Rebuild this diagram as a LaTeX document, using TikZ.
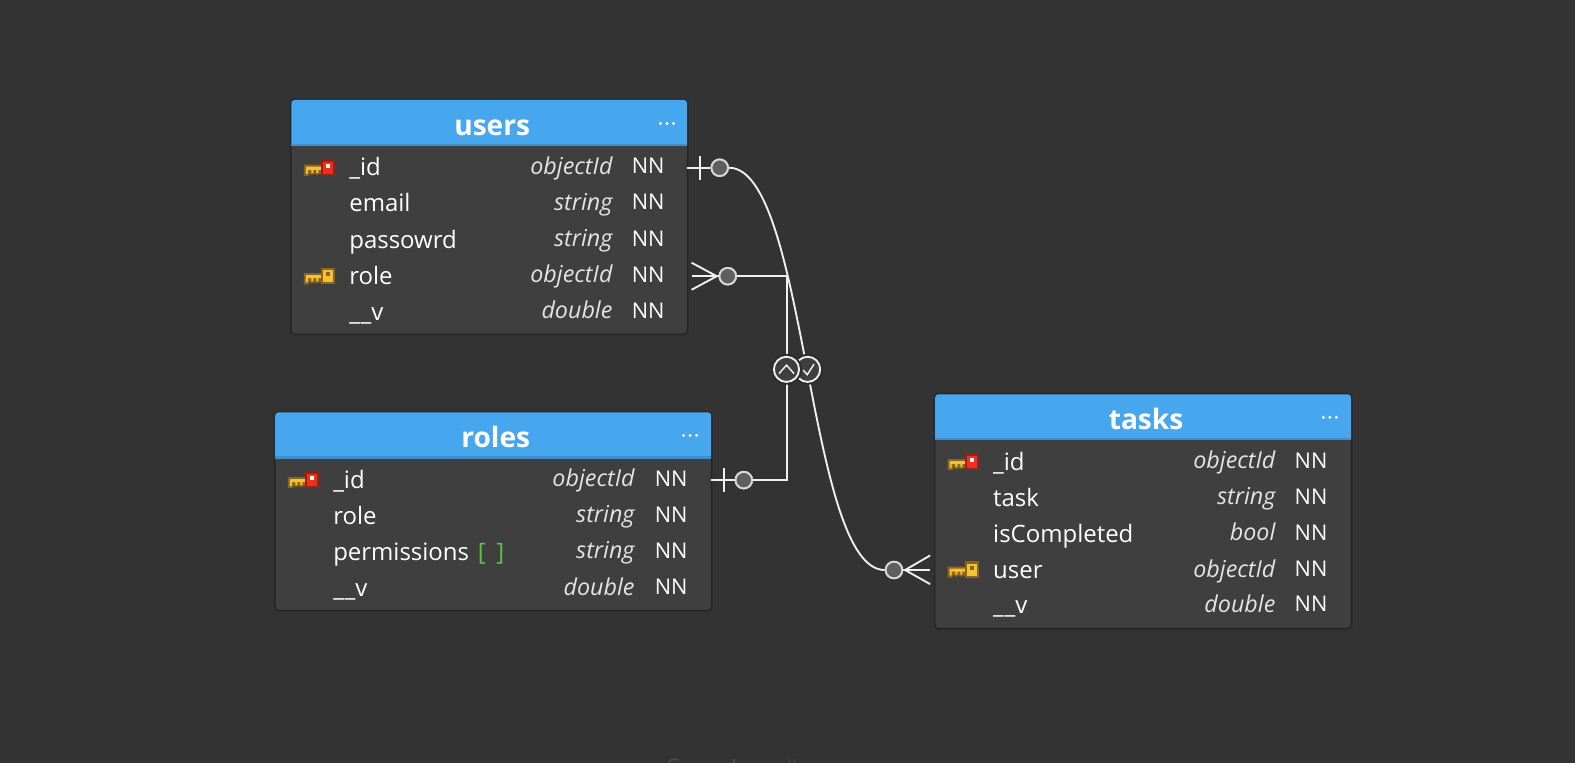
\documentclass[tikz,border=0pt]{standalone}
\usepackage{fontspec}
\setmainfont{Open Sans}
\definecolor{bgc}{HTML}{333333}
\definecolor{panelc}{HTML}{3F3F3F}
\definecolor{headc}{HTML}{46A7EE}
\definecolor{headline}{HTML}{3F8FCB}
\definecolor{edgec}{HTML}{262626}
\definecolor{linkc}{HTML}{F0F0F0}
\definecolor{dotc}{HTML}{5F5F5F}
\definecolor{dotr}{HTML}{D8D8D8}
\definecolor{typec}{HTML}{E4E4E4}
\definecolor{greenc}{HTML}{5FBF45}
\definecolor{keyy}{HTML}{F6C232}
\definecolor{keyb}{HTML}{8A6420}
\definecolor{keyr}{HTML}{F0301F}
\definecolor{keyd}{HTML}{9A1F14}
\definecolor{faintc}{HTML}{4A4A4A}
\tikzset{
  x=0.75pt,y=-0.75pt,
  tablebox/.style={draw=edgec,line width=1.2pt,fill=panelc,rounded corners=3pt,outer sep=0},
  fieldname/.style={anchor=base west,inner sep=0,text=white,font=\fontsize{17.9}{20}\selectfont},
  fieldtype/.style={anchor=base east,inner sep=0,text=typec,font=\fontsize{17.4}{20}\selectfont\itshape},
  fieldnn/.style={anchor=base west,inner sep=0,text=white,font=\fontsize{16.2}{20}\selectfont},
  tabletitle/.style={anchor=base,inner sep=0,text=white,font=\fontsize{21}{24}\selectfont\bfseries},
  linkline/.style={draw=linkc,line width=1.4pt},
  optdot/.style={circle,draw=dotr,fill=dotc,line width=1.4pt,minimum size=12.4pt,inner sep=0},
  btn/.style={circle,draw=linkc,fill=panelc,line width=1.4pt,minimum size=18.8pt,inner sep=0},
  halo/.style={circle,fill=bgc!85!black,minimum size=23pt,inner sep=0},
}
% #1 x, #2 y of bow centre, #3 bow fill, #4 bow border, #5 pip colour
\newcommand{\keyglyph}[5]{%
  \begin{scope}[shift={(#1,#2)}]
    \fill[keyb] (0,-3) rectangle (18,6) (0,6) rectangle (5,8) (7,6) rectangle (9.5,7) (12,6) rectangle (14.5,7);
    \fill[keyy] (2,-1) rectangle (18,2) (2,2) rectangle (4,6) (7.5,2) rectangle (9.5,5) (12.5,2) rectangle (14.5,5);
    \fill[#4] (17,-8) rectangle (31,8);
    \fill[#3] (19,-6) rectangle (29,6);
    \fill[#5] (22.5,-4) rectangle (26.5,0);
  \end{scope}}
\newcommand{\dotsmark}[2]{%
  \fill[white] (#1,#2) circle (1.6) ++(6.5,0) circle (1.6) ++(6.5,0) circle (1.6);}
\newcommand{\tablepanel}[9]{% name x1 y1 x2 y2 title dotsx dotsy titlex
  \node[tablebox,minimum width={(#4-#2)*0.75pt},minimum height={(#5-#3)*0.75pt},anchor=north west,inner sep=0] (#1) at (#2,#3) {};
  \fill[headc] (#2+0.5,#3+46) [rounded corners=2.5pt] -- (#2+0.5,#3+0.5) -- (#4-0.5,#3+0.5) [sharp corners] -- (#4-0.5,#3+46) -- cycle;
  \fill[headline] (#2+0.5,#3+44) rectangle (#4-0.5,#3+46.5);
  \node[tabletitle] (#1title) at (#9,#3+36) {#6};
  \dotsmark{#7}{#8}
}
\begin{document}
\begin{tikzpicture}
\useasboundingbox (0,0) rectangle (1568,759.6);
\fill[bgc] (0,0) rectangle (1568,759.6);

%% tables
\tablepanel{users}{289.5}{99}{684.5}{333}{users}{657.5}{123}{490}
\tablepanel{roles}{273.5}{410}{708.5}{608}{roles}{680.5}{433.5}{493.5}
\tablepanel{tasks}{930.5}{392}{1345.5}{626}{tasks}{1317.5}{415.5}{1141}

%% keys
\keyglyph{302.5}{167}{keyr}{keyd}{white}
\keyglyph{302.5}{275}{keyy}{keyb}{keyb}
\keyglyph{286.5}{478}{keyr}{keyd}{white}
\keyglyph{943.5}{460}{keyr}{keyd}{white}
\keyglyph{943.5}{567}{keyy}{keyb}{keyb}

%% users
\node[fieldname] (u1) at (347.5,175) {\_id};
\node[fieldname] (u2) at (347.5,211) {email};
\node[fieldname] (u3) at (347.5,247) {passowrd};
\node[fieldname] (u4) at (347.5,283) {role};
\node[fieldname] (u5) at (347.5,319) {\_\kern0.5pt\_v};
\node[fieldtype] (ut1) at (610,173.5) {objectId};
\node[fieldtype] (ut2) at (610,209.5) {string};
\node[fieldtype] (ut3) at (610,245.5) {string};
\node[fieldtype] (ut4) at (610,281.5) {objectId};
\node[fieldtype] (ut5) at (610,317.5) {double};
\foreach \n/\y in {1/173,2/209,3/245,4/281,5/317}
  \node[fieldnn] (un\n) at (628.7,\y) {NN};

%% roles
\node[fieldname] (r1) at (331.5,486) {\_id};
\node[fieldname] (r2) at (331.5,522) {role};
\node[fieldname] (r3) at (331.5,558) {permissions\hspace{6.5pt}\textcolor{greenc}{[\hspace{8pt}]}};
\node[fieldname] (r4) at (331.5,594) {\_\kern0.5pt\_v};
\node[fieldtype] (rt1) at (632,484.5) {objectId};
\node[fieldtype] (rt2) at (632,520.5) {string};
\node[fieldtype] (rt3) at (632,556.5) {string};
\node[fieldtype] (rt4) at (632,592.5) {double};
\foreach \n/\y in {1/484,2/520,3/556,4/592}
  \node[fieldnn] (rn\n) at (651.7,\y) {NN};

%% tasks
\node[fieldname] (t1) at (988.5,468) {\_id};
\node[fieldname] (t2) at (988.5,504) {task};
\node[fieldname] (t3) at (988.5,540) {isCompleted};
\node[fieldname] (t4) at (988.5,576) {user};
\node[fieldname] (t5) at (988.5,611) {\_\kern0.5pt\_v};
\node[fieldtype] (tt1) at (1270,466.5) {objectId};
\node[fieldtype] (tt2) at (1270,502.5) {string};
\node[fieldtype] (tt3) at (1270,538.5) {bool};
\node[fieldtype] (tt4) at (1270,574.5) {objectId};
\node[fieldtype] (tt5) at (1270,609.5) {double};
\foreach \n/\y in {1/466,2/502,3/538,4/574,5/609}
  \node[fieldnn] (tn\n) at (1288.7,\y) {NN};

%% connectors
\node[optdot] (dotA) at (716.5,167) {};
\node[optdot] (dotB) at (724.5,275) {};
\node[optdot] (dotC) at (740.5,478) {};
\node[optdot] (dotD) at (890,567.5) {};
\coordinate (usersA) at (684,167);
\coordinate (usersB) at (689,275);
\coordinate (rolesC) at (708,478);
\coordinate (tasksD) at (926,567.5);
\coordinate (bend1) at (783.5,275);
\coordinate (bend2) at (783.5,478);

\draw[linkline] (dotA.east) .. controls (803.5,167) and (803.5,567.5) .. (dotD.west);
\draw[linkline] (dotB) -- (bend1) -- (bend2) -- (dotC);
\coordinate (apexB) at (713.5,275);
\coordinate (apexD) at (901,567.5);
\draw[linkline] (usersA) -- (dotA);
\draw[linkline] (697,155.5) -- (697,179.5);
\draw[linkline] (usersB) -- (dotB);
\draw[linkline] (688.5,261.5) -- (apexB) -- (688.5,288.5);
\draw[linkline] (rolesC) -- (dotC);
\draw[linkline] (720.5,466) -- (720.5,489.5);
\draw[linkline] (tasksD) -- (dotD);
\draw[linkline] (926,553) -- (apexD) -- (926,581.5);
\node[optdot] at (dotA) {};
\node[optdot] at (dotB) {};
\node[optdot] at (dotC) {};
\node[optdot] at (dotD) {};

%% buttons
\node[halo] at (804,367.7) {};
\node[btn] (chk) at (804,367.7) {};
\draw[linkc,line width=1.1pt] (799.6,368.5) -- (803.6,373) -- (810.4,362.5);
\node[halo] at (783,367.7) {};
\node[btn] (chev) at (783,367.7) {};
\draw[linkc,line width=1.1pt] (775.5,372) -- (783,363.5) -- (790.5,372);

%% faint remnant at the bottom edge
\draw[faintc,line width=1.3pt] (675,757) .. controls (671,754.5) and (667,756) .. (665.5,760);
\draw[faintc,line width=1.3pt] (731,756) -- (731,760);
\draw[faintc,line width=1.3pt] (786,754.5) -- (786,760);
\draw[faintc,line width=1.3pt] (791,755.5) -- (791,760);
\end{tikzpicture}
\end{document}
